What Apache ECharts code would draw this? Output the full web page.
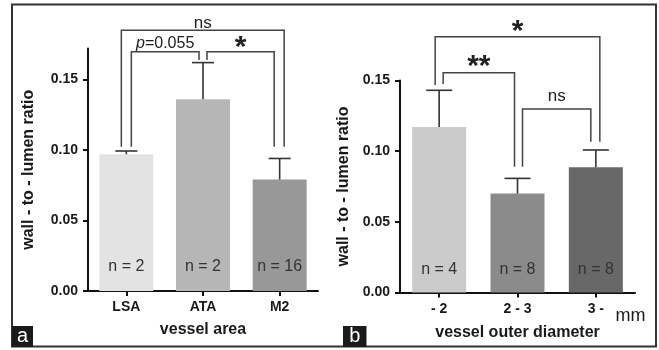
<!DOCTYPE html>
<html>
<head>
<meta charset="utf-8">
<style>
  html, body { margin: 0; padding: 0; background: #ffffff; }
  #chart { width: 659px; height: 350px; }
</style>
<script src="https://cdn.jsdelivr.net/npm/echarts@6/dist/echarts.min.js"></script>
</head>
<body>
<div id="chart"></div>
<script>
// ---------- data ----------
const catsA = ['LSA', 'ATA', 'M2'];
const meanA = [0.097, 0.136, 0.079];
const semA = [0.0023, 0.026, 0.015];
const nA = ['n = 2', 'n = 2', 'n = 16'];

const catsB = ['- 2', '2 - 3', '3 -'];
const meanB = [0.117, 0.070, 0.0885];
const semB = [0.026, 0.0107, 0.0123];
const nB = ['n = 4', 'n = 8', 'n = 8'];

const yTicks = [0, 0.05, 0.10, 0.15];

// brackets: [left category, right category, bracket top, left leg end, right leg end]
const bracketsA = [[0, 2, 0.185, 0.1023, 0.1023], [0, 1, 0.1697, 0.1023, 0.1638], [1, 2, 0.1697, 0.1638, 0.1023]];
const bracketLabelsA = ['ns', 'p=0.055', '*'];
const bracketsB = [[0, 2, 0.1809, 0.1467, 0.1066], [0, 1, 0.1554, 0.1474, 0.089], [1, 2, 0.1298, 0.089, 0.1066]];
const bracketLabelsB = ['*', '**', 'ns'];

const xNameA = 'vessel area';
const xNameB = 'vessel outer diameter';
const yName = 'wall - to - lumen ratio';

// ---------- styles ----------
const FONT = '"Liberation Sans", Arial, Helvetica, sans-serif';
const colorsA = ['#e3e3e3', '#b6b6b6', '#989898'];
const colorsB = ['#cbcbcb', '#8b8b8b', '#686868'];
const legOffsetA = [[-5, 4.5], [5, -4], [4, -5.5]];
const legOffsetB = [[-4, 4], [4, -3], [5, -5]];
const labelDyA = [2, 0, 10.5];
const labelDyB = [10, 9, -4];
const labelStyle = {
  'ns': { size: 17, weight: 'normal' },
  'p=0.055': { size: 16, weight: 'normal' },
  '*': { size: 30, weight: 'bold' },
  '**': { size: 30, weight: 'bold' }
};

const chart = echarts.init(document.getElementById('chart'), null, { renderer: 'canvas' });

function xAxisCfg(cats, gridIndex, name, labelMargin, nameGap) {
  return {
    type: 'category', gridIndex, data: cats,
    name, nameLocation: 'middle', nameGap,
    nameTextStyle: { fontFamily: FONT, fontSize: 16, fontWeight: 'bold', color: '#1a1a1a' },
    axisLine: { show: true, lineStyle: { color: '#111', width: 2 } },
    axisTick: { show: true, alignWithLabel: true, length: 5, lineStyle: { color: '#111', width: 2 } },
    axisLabel: { fontFamily: FONT, fontSize: 14, fontWeight: 'bold', color: '#1a1a1a', margin: labelMargin, interval: 0 },
    splitLine: { show: false }
  };
}
function yAxisCfg(gridIndex, max, nameGap) {
  return {
    type: 'value', gridIndex, min: 0, max,
    name: yName, nameLocation: 'middle', nameGap, nameRotate: 90,
    nameTextStyle: { fontFamily: FONT, fontSize: 16, fontWeight: 'bold', color: '#1a1a1a' },
    axisLine: { show: true, lineStyle: { color: '#111', width: 2 } },
    axisTick: { show: true, length: 5, customValues: yTicks, lineStyle: { color: '#111', width: 2 } },
    axisLabel: { fontFamily: FONT, fontSize: 14, fontWeight: 'bold', color: '#1a1a1a', margin: 10,
      customValues: yTicks, formatter: v => v.toFixed(2) },
    splitLine: { show: false }
  };
}

function barSeries(idx, means, colors, nLabels, dist) {
  return {
    type: 'bar', xAxisIndex: idx, yAxisIndex: idx, barWidth: 54,
    data: means.map((v, i) => ({ value: v, itemStyle: { color: colors[i] } })),
    label: { show: true, position: 'insideBottom', distance: dist,
      formatter: p => nLabels[p.dataIndex],
      fontFamily: FONT, fontSize: 16, color: '#333' },
    emphasis: { disabled: true },
    z: 2
  };
}

function errSeries(idx, means, sems, capW) {
  return {
    type: 'custom', xAxisIndex: idx, yAxisIndex: idx, clip: false, z: 3,
    data: means.map((m, i) => [i, m, sems[i]]),
    encode: { x: 0, y: 1 },
    renderItem: (params, api) => {
      const i = api.value(0), m = api.value(1), s = api.value(2);
      const b = api.coord([i, m]);
      const t = api.coord([i, m + s]);
      const st = { stroke: '#333', lineWidth: 1.6 };
      return { type: 'group', children: [
        { type: 'line', shape: { x1: b[0], y1: b[1], x2: t[0], y2: t[1] }, style: st },
        { type: 'line', shape: { x1: t[0] - capW / 2, y1: t[1], x2: t[0] + capW / 2, y2: t[1] }, style: st }
      ] };
    }
  };
}

function bracketSeries(idx, brackets, labels, offsets, dys) {
  return {
    type: 'custom', xAxisIndex: idx, yAxisIndex: idx, clip: false, z: 4,
    data: brackets,
    encode: { x: 0, y: 2 },
    renderItem: (params, api) => {
      const k = params.dataIndex;
      const l = api.value(0), r = api.value(1);
      const top = api.value(2), le = api.value(3), re = api.value(4);
      const off = offsets[k];
      const pl = api.coord([l, top]);
      const pr = api.coord([r, top]);
      const ple = api.coord([l, le]);
      const pre = api.coord([r, re]);
      const xl = pl[0] + off[0], xr = pr[0] + off[1];
      const lab = labels[k];
      const ls = labelStyle[lab];
      let textStyle;
      if (lab === 'p=0.055') {
        textStyle = { text: '{i|p}=0.055', rich: { i: { fontStyle: 'italic', fontSize: ls.size, fontFamily: FONT, fill: '#222' } } };
      } else {
        textStyle = { text: lab };
      }
      Object.assign(textStyle, {
        x: (xl + xr) / 2, y: pl[1] + dys[k],
        align: 'center', verticalAlign: 'bottom',
        fontFamily: FONT, fontSize: ls.size, fontWeight: ls.weight, fill: '#222'
      });
      return { type: 'group', children: [
        { type: 'polyline', shape: { points: [[xl, ple[1]], [xl, pl[1]], [xr, pr[1]], [xr, pre[1]]] },
          style: { stroke: '#444', lineWidth: 1.5, fill: null } },
        { type: 'text', style: textStyle }
      ] };
    }
  };
}

const option = {
  backgroundColor: '#ffffff',
  animation: false,
  grid: [
    { left: 88, width: 230, top: 48.5, bottom: 59 },
    { left: 400, width: 235, top: 80.4, bottom: 57.5 }
  ],
  xAxis: [xAxisCfg(catsA, 0, xNameA, 9, 31), xAxisCfg(catsB, 1, xNameB, 10, 32)],
  yAxis: [yAxisCfg(0, 0.172, 51), yAxisCfg(1, 0.15, 48)],
  series: [
    barSeries(0, meanA, colorsA, nA, 16),
    barSeries(1, meanB, colorsB, nB, 15),
    errSeries(0, meanA, semA, 22),
    errSeries(1, meanB, semB, 26),
    bracketSeries(0, bracketsA, bracketLabelsA, legOffsetA, labelDyA),
    bracketSeries(1, bracketsB, bracketLabelsB, legOffsetB, labelDyB)
  ],
  graphic: [
    { type: 'rect', shape: { x: 12, y: 4.5, width: 644, height: 342 }, style: { fill: null, stroke: '#333', lineWidth: 2 }, z: 10 },
    { type: 'rect', shape: { x: 12, y: 326, width: 21, height: 21 }, style: { fill: '#1a1a1a' }, z: 11 },
    { type: 'text', style: { text: 'a', x: 22.5, y: 336.5, align: 'center', verticalAlign: 'middle', fontFamily: FONT, fontSize: 20, fill: '#ffffff' }, z: 12 },
    { type: 'rect', shape: { x: 343, y: 326, width: 23.5, height: 21 }, style: { fill: '#1a1a1a' }, z: 11 },
    { type: 'text', style: { text: 'b', x: 354.7, y: 336.5, align: 'center', verticalAlign: 'middle', fontFamily: FONT, fontSize: 20, fill: '#ffffff' }, z: 12 },
    { type: 'text', style: { text: 'mm', x: 630.5, y: 316.5, align: 'center', verticalAlign: 'middle', fontFamily: FONT, fontSize: 18, fill: '#1a1a1a' }, z: 12 }
  ]
};
chart.setOption(option);
</script>
</body>
</html>
